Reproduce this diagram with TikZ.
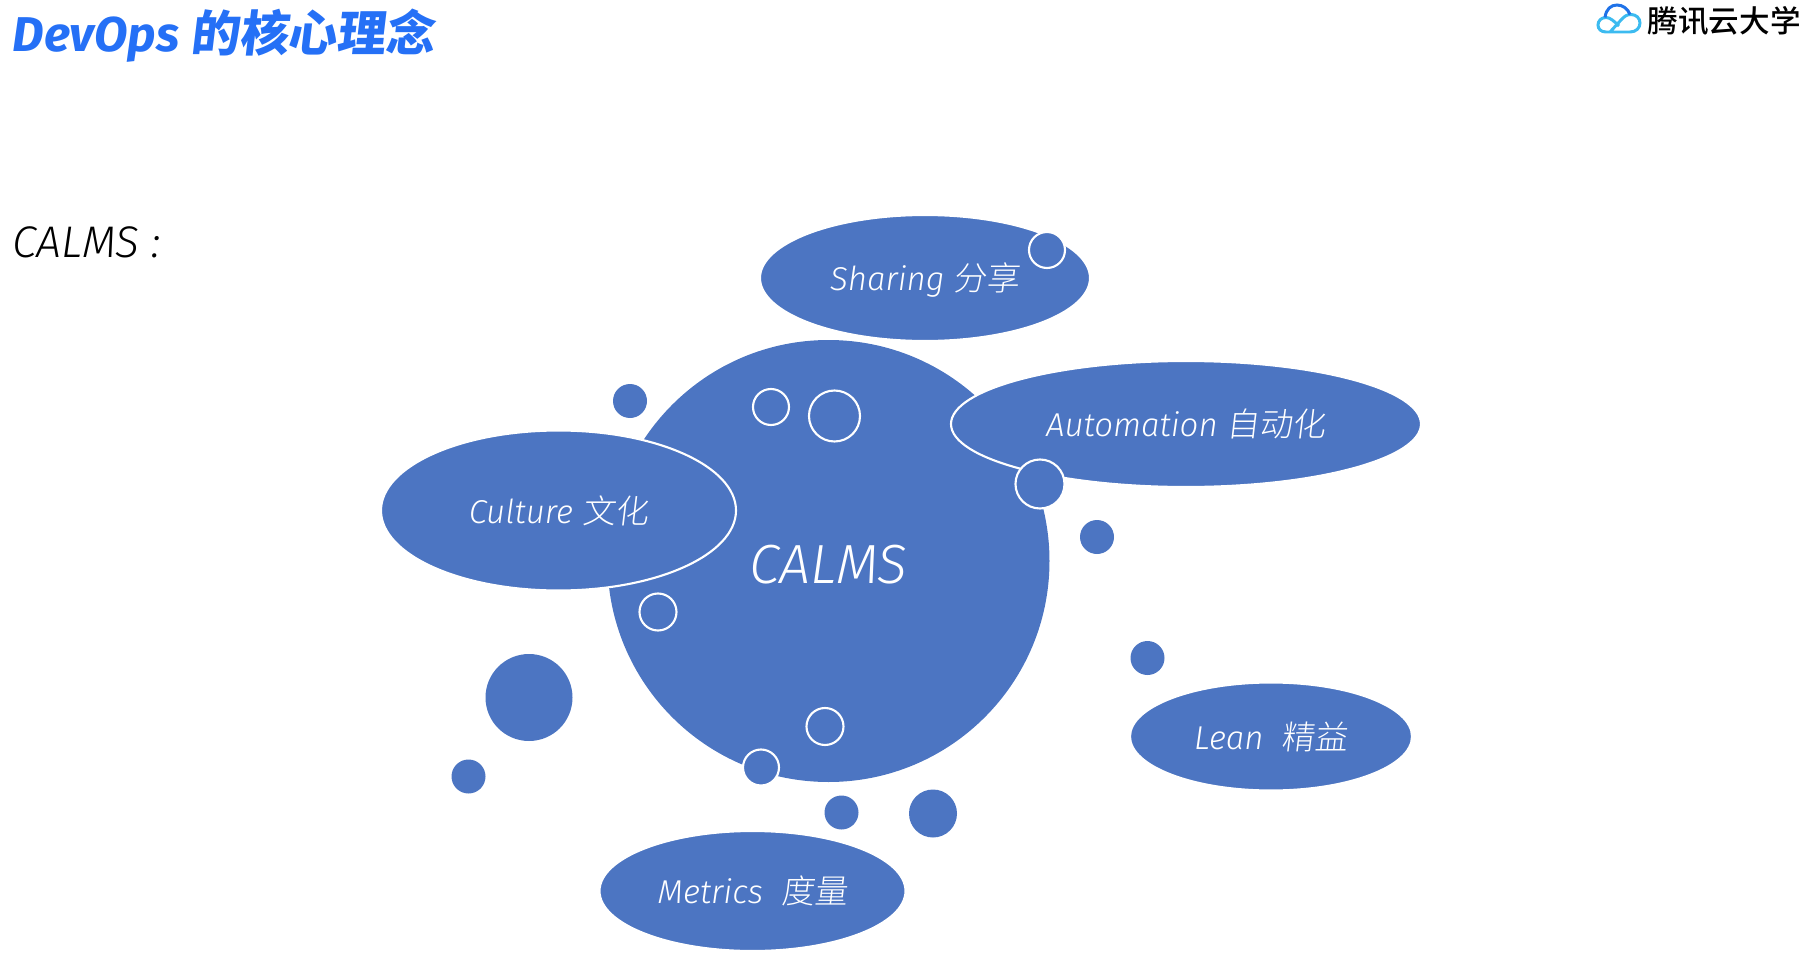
\documentclass[tikz,border=0pt]{standalone}
\usepackage{fontspec}
\usetikzlibrary{shapes.geometric}
\setmainfont{Fira Sans Light}[ItalicFont={Fira Sans Light Italic},BoldFont={Fira Sans Bold},BoldItalicFont={Fira Sans Bold Italic}]
\newfontfamily\zhlabel{Noto Sans CJK SC Light}[FakeSlant=0.12]
\newfontfamily\zhtitle{Noto Sans CJK SC Bold}[FakeSlant=0.12]
\newfontfamily\zhlogo{Noto Sans CJK SC Medium}
\definecolor{calmsblue}{HTML}{4C75C2}
\definecolor{titleblue}{HTML}{2570F6}
\definecolor{logodark}{HTML}{1F72E8}
\definecolor{logolight}{HTML}{3CBBF0}
\newcommand{\nudge}[2]{\raisebox{-#1}[\height][\depth]{#2}}
\tikzset{
  bubble/.style={ellipse,fill=calmsblue,draw=white,line width=0.6pt,text=white,inner sep=0pt,font=\itshape\fontsize{9.4}{11}\selectfont},
  dot/.style={circle,fill=calmsblue,inner sep=0pt},
  ring/.style={dot,draw=white,line width=0.6pt},
}
\begin{document}
\begin{tikzpicture}
\useasboundingbox (0,0) rectangle (18.06,-9.70);
% headline
\node[anchor=west,inner sep=0pt,text=titleblue,font=\bfseries\itshape\fontsize{13.9}{16}\selectfont] (title) at (0.12,-0.36) {DevOps {\zhtitle 的核心理念}};
\node[anchor=west,inner sep=0pt,font=\itshape\fontsize{12.6}{14}\selectfont] (calmslabel) at (0.12,-2.42) {CALMS :};
% logo
\draw[logolight,line width=0.85pt] (16.19,-0.26) .. controls (16.14,-0.21) and (16.10,-0.175) .. (16.06,-0.175)
  .. controls (16.01,-0.175) and (15.98,-0.21) .. (15.98,-0.25)
  .. controls (15.98,-0.29) and (16.01,-0.32) .. (16.06,-0.32) -- (16.30,-0.32)
  .. controls (16.36,-0.32) and (16.40,-0.28) .. (16.40,-0.23)
  .. controls (16.40,-0.18) and (16.36,-0.145) .. (16.31,-0.145)
  .. controls (16.26,-0.145) and (16.24,-0.17) .. (16.21,-0.20) -- (16.10,-0.32);
\draw[logodark,line width=0.85pt] (16.05,-0.175) .. controls (16.06,-0.09) and (16.11,-0.05) .. (16.17,-0.05)
  .. controls (16.23,-0.05) and (16.28,-0.09) .. (16.30,-0.145);
\node[anchor=west,inner sep=0pt,font=\zhlogo\fontsize{8.7}{10}\selectfont] (logotext) at (16.47,-0.205) {腾讯云大学};
% main circle and the five ellipses
\node[dot,minimum size=4.42cm,text=white,font=\itshape\fontsize{15.7}{18}\selectfont] (calms) at (8.285,-5.61) {\nudge{0.04cm}{CALMS}};
\node[bubble,minimum width=3.30cm,minimum height=1.26cm] (sharing) at (9.25,-2.78) {\nudge{0.02cm}{Sharing {\zhlabel 分享}}};
\node[bubble,minimum width=4.70cm,minimum height=1.26cm] (automation) at (11.86,-4.24) {Automation {\zhlabel 自动化}};
\node[bubble,minimum width=3.55cm,minimum height=1.60cm] (culture) at (5.585,-5.105) {Culture {\zhlabel 文化}};
\node[bubble,minimum width=2.82cm,minimum height=1.08cm] (lean) at (12.71,-7.365) {Lean\ \ {\zhlabel 精益}};
\node[bubble,minimum width=3.06cm,minimum height=1.20cm] (metrics) at (7.525,-8.91) {Metrics\ \ {\zhlabel 度量}};
% rings
\node[ring,minimum size=0.36cm] (ringa) at (10.47,-2.50) {};
\node[ring,minimum size=0.36cm] (ringb) at (7.71,-4.07) {};
\node[ring,minimum size=0.51cm] (ringc) at (8.345,-4.16) {};
\node[ring,minimum size=0.49cm] (ringd) at (10.40,-4.84) {};
\node[ring,minimum size=0.37cm] (ringe) at (6.58,-6.12) {};
\node[ring,minimum size=0.37cm] (ringf) at (8.25,-7.265) {};
\node[ring,minimum size=0.36cm] (ringg) at (7.61,-7.675) {};
% loose dots
\node[dot,minimum size=0.34cm] (dota) at (6.30,-4.01) {};
\node[dot,minimum size=0.34cm] (dotb) at (10.97,-5.37) {};
\node[dot,minimum size=0.34cm] (dotc) at (11.475,-6.58) {};
\node[dot,minimum size=0.87cm] (dotd) at (5.29,-6.975) {};
\node[dot,minimum size=0.34cm] (dote) at (4.685,-7.765) {};
\node[dot,minimum size=0.34cm] (dotf) at (8.415,-8.125) {};
\node[dot,minimum size=0.48cm] (dotg) at (9.33,-8.135) {};
\end{tikzpicture}
\end{document}
